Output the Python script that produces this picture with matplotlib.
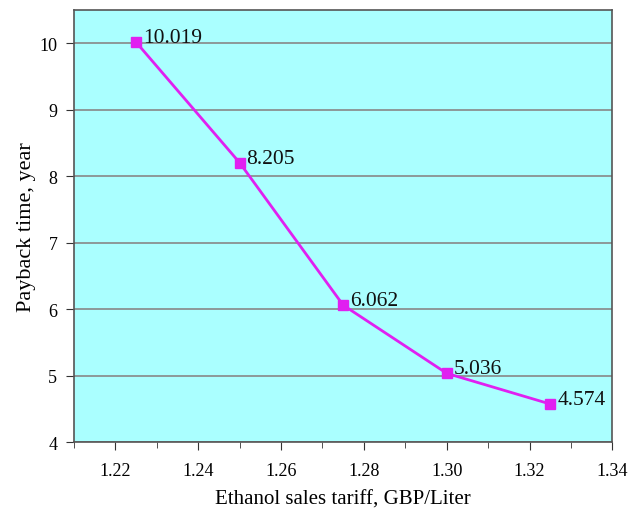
import matplotlib
matplotlib.use('Agg')
import matplotlib.pyplot as plt
from matplotlib.ticker import MultipleLocator

tariff = [1.225, 1.25, 1.275, 1.30, 1.325]
payback = [10.019, 8.205, 6.062, 5.036, 4.574]
labels = ['10.019', '8.205', '6.062', '5.036', '4.574']
xticks = [1.22, 1.24, 1.26, 1.28, 1.30, 1.32, 1.34]
xticklabels = ['1.22', '1.24', '1.26', '1.28', '1.30', '1.32', '1.34']

plt.rcParams['font.family'] = 'Liberation Serif'

fig = plt.figure(figsize=(6.41, 5.10), dpi=100)
ax = fig.add_axes([0.1154, 0.131, 0.84, 0.847])
ax.set_facecolor('#aaffff')

ax.plot(tariff, payback, color='#e020f0', lw=2, marker='s', ms=7.5,
        mfc='#e020f0', mec='#e020f0', zorder=3)
for x, y, t in zip(tariff, payback, labels):
    ax.annotate(t, (x, y), xytext=(5, 0), textcoords='offset points',
                fontsize=15.5, va='baseline', ha='left', color='#111111')

ax.set_xlim(1.21, 1.34)
ax.set_ylim(4, 10.5)
ax.xaxis.set_minor_locator(MultipleLocator(0.01))
ax.yaxis.set_major_locator(MultipleLocator(1))
ax.set_xticks(xticks)
ax.set_xticklabels(xticklabels)
ax.grid(axis='y', color='#888888', lw=1.2)
ax.set_axisbelow(True)

ax.tick_params(axis='both', which='major', direction='out', length=6,
               labelsize=13, color='#333333', pad=6)
ax.tick_params(axis='x', which='major', pad=8)
ax.tick_params(axis='x', which='minor', direction='out', length=4, color='#333333')
for s in ax.spines.values():
    s.set_color('#555555')
    s.set_linewidth(1.2)

ax.set_xlabel('Ethanol sales tariff, GBP/Liter', fontsize=15)
ax.set_ylabel('Payback time, year', fontsize=16)
ax.xaxis.set_label_coords(0.5, -0.11)
ax.yaxis.set_label_coords(-0.07, 0.5)

fig.savefig('out.png', dpi=100)
